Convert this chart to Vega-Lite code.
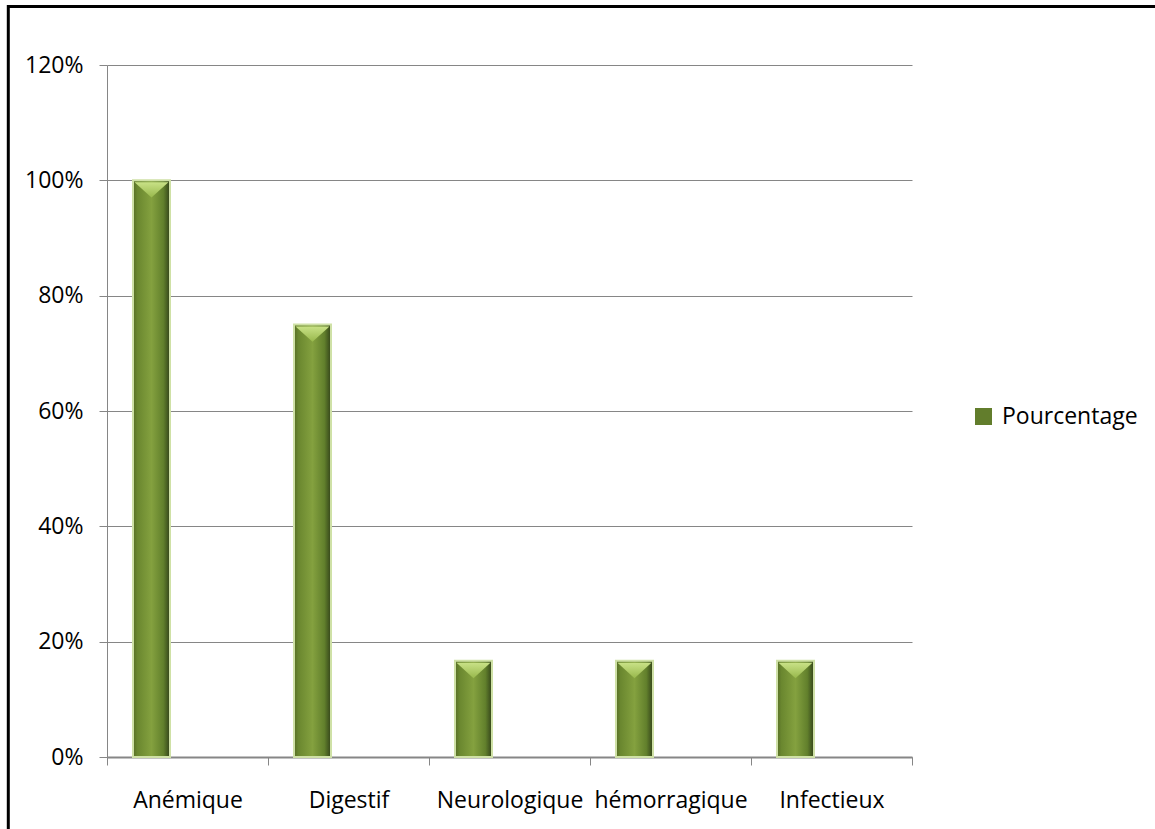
{
  "$schema": "https://vega.github.io/schema/vega-lite/v6.json",
  "width": 805,
  "height": 692,
  "autosize": "none",
  "padding": {"left": 107, "top": 65, "right": 243, "bottom": 72},
  "background": "white",
  "config": {
    "view": {"stroke": null},
    "font": "Open Sans",
    "axis": {"labelFont": "Open Sans"},
    "legend": {"labelFont": "Open Sans"}
  },
  "data": {
    "values": [
      {"categorie": "Anémique", "serie": "Pourcentage", "valeur": 1.0},
      {"categorie": "Digestif", "serie": "Pourcentage", "valeur": 0.75},
      {"categorie": "Neurologique", "serie": "Pourcentage", "valeur": 0.1667},
      {"categorie": "hémorragique", "serie": "Pourcentage", "valeur": 0.1667},
      {"categorie": "Infectieux", "serie": "Pourcentage", "valeur": 0.1667}
    ]
  },
  "layer": [
    {
      "mark": {"type": "bar"},
      "encoding": {
        "x": {
          "field": "categorie", "type": "nominal", "sort": null,
          "scale": {"paddingInner": 0, "paddingOuter": 0},
          "axis": {
            "title": null, "labelAngle": 0, "tickBand": "extent", "labelOverlap": false,
            "domainColor": "#868686", "domainWidth": 2, "tickColor": "#868686", "tickSize": 8,
            "labelFontSize": 23, "labelPadding": 24, "labelColor": "black", "grid": false
          }
        },
        "xOffset": {
          "field": "serie", "type": "nominal",
          "scale": {"domain": ["Pourcentage", "vide"], "paddingInner": 0.486, "paddingOuter": 0.361}
        },
        "y": {
          "field": "valeur", "type": "quantitative",
          "scale": {"domain": [0, 1.2]},
          "axis": {
            "title": null, "values": [0, 0.2, 0.4, 0.6, 0.8, 1, 1.2], "format": ".0%",
            "grid": true, "gridColor": "#868686", "domainColor": "#868686", "tickColor": "#868686",
            "tickSize": 8, "labelFontSize": 23, "labelColor": "black", "labelPadding": 16
          }
        },
        "color": {
          "field": "serie", "type": "nominal",
          "scale": {"range": ["#627d2c"]},
          "legend": {
            "title": null, "orient": "none", "legendX": 865, "legendY": 340,
            "symbolType": "square", "symbolSize": 289, "labelFontSize": 23, "labelColor": "black",
            "padding": 0, "labelOffset": 7, "symbolStrokeWidth": 0
          }
        }
      }
    },
    {
      "mark": {
        "type": "bar",
        "fill": {
          "gradient": "linear", "x1": 0, "x2": 1, "y1": 0, "y2": 0,
          "stops": [
            {"offset": 0, "color": "#566d26"},
            {"offset": 0.12, "color": "#6a872f"},
            {"offset": 0.5, "color": "#84a13f"},
            {"offset": 0.82, "color": "#62802c"},
            {"offset": 1, "color": "#33431a"}
          ]
        },
        "stroke": "#cfe1a6",
        "strokeWidth": 2
      },
      "encoding": {
        "x": {"field": "categorie", "type": "nominal", "sort": null},
        "xOffset": {"field": "serie", "type": "nominal"},
        "y": {"field": "valeur", "type": "quantitative"}
      }
    },
    {
      "mark": {
        "type": "point",
        "shape": "M-1,0L1,0L0,0.9Z",
        "size": 1150,
        "filled": true,
        "opacity": 1,
        "yOffset": 2,
        "fill": {
          "gradient": "linear", "x1": 0, "x2": 0, "y1": 0, "y2": 1,
          "stops": [
            {"offset": 0, "color": "#c8e186"},
            {"offset": 1, "color": "#98b84c"}
          ]
        }
      },
      "encoding": {
        "x": {"field": "categorie", "type": "nominal", "sort": null},
        "xOffset": {"field": "serie", "type": "nominal"},
        "y": {"field": "valeur", "type": "quantitative"}
      }
    },
    {
      "data": {"values": [{}]},
      "mark": {"type": "rule", "color": "black", "strokeWidth": 3},
      "encoding": {
        "x": {"value": -98.7},
        "y": {"value": -60},
        "y2": {"value": 780}
      }
    },
    {
      "data": {"values": [{}]},
      "mark": {"type": "rule", "color": "black", "strokeWidth": 3},
      "encoding": {
        "x": {"value": -100},
        "x2": {"value": 1060},
        "y": {"value": -58.5}
      }
    }
  ]
}
